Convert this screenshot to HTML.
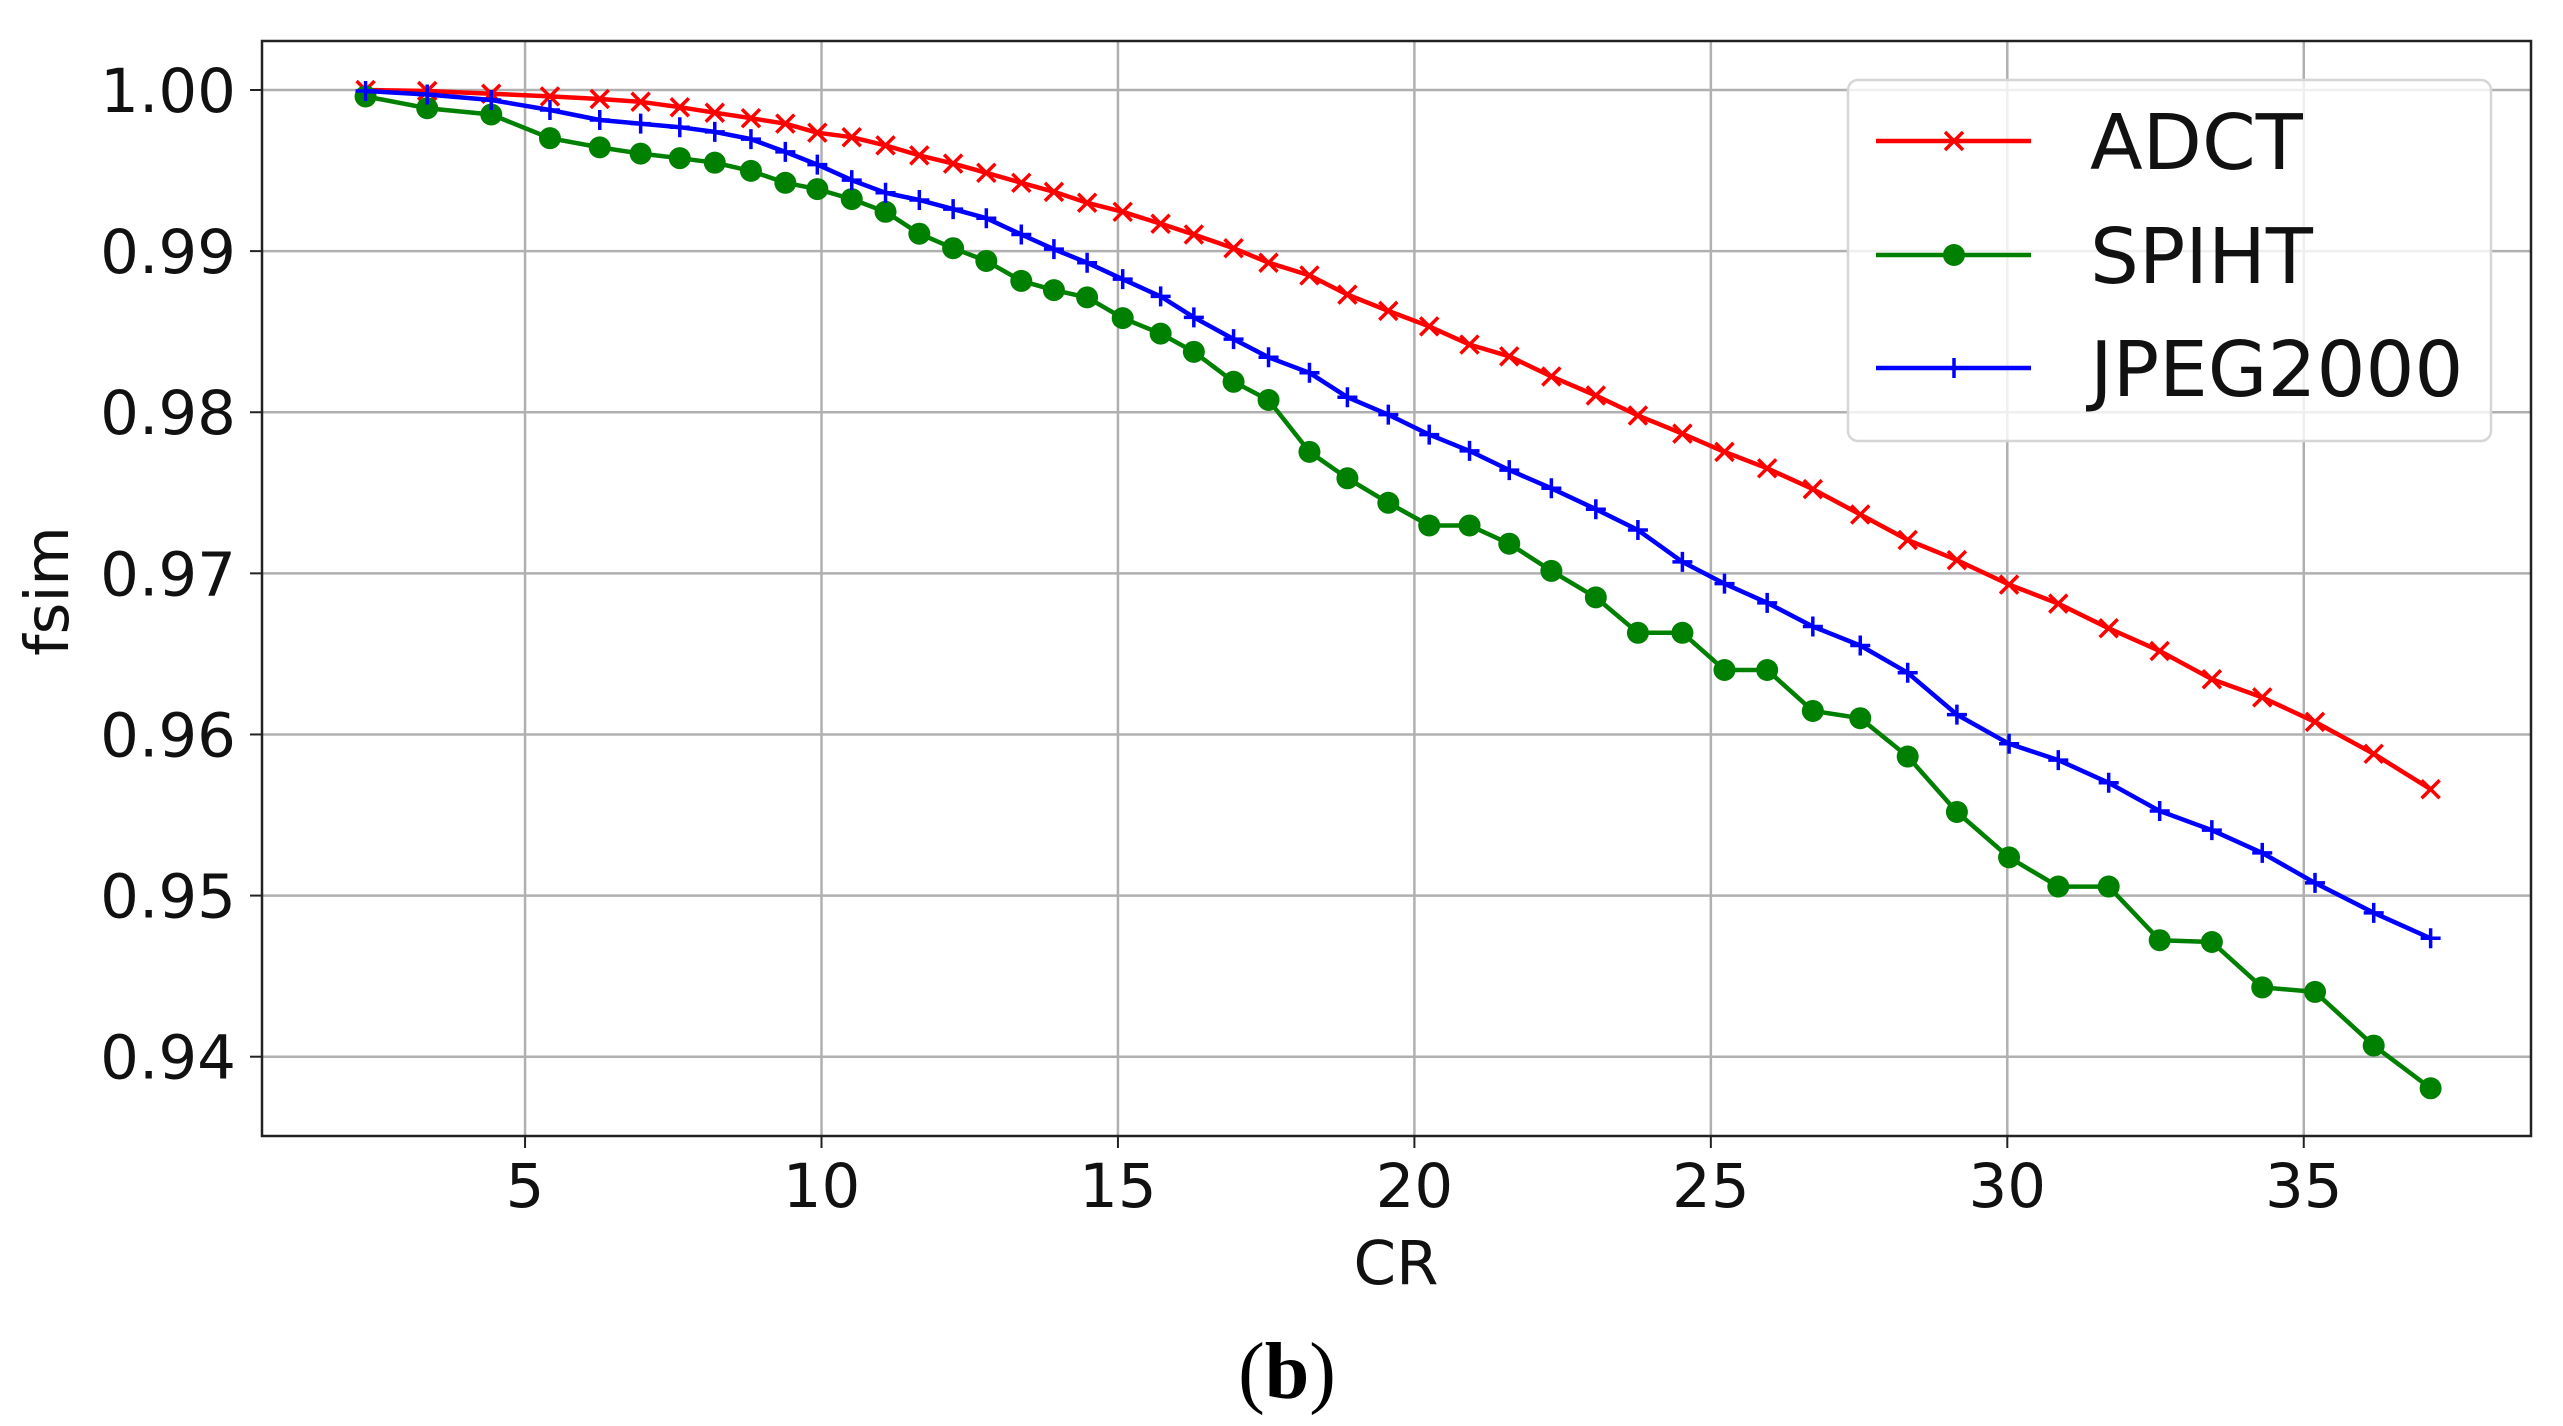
<!DOCTYPE html>
<html><head><meta charset="utf-8"><style>
html,body{margin:0;padding:0;background:#fff;}
svg{display:block;}
text{font-family:"DejaVu Sans","Liberation Sans",sans-serif;}
text.serif{font-family:"Liberation Serif","DejaVu Serif",serif;}
</style></head><body>
<svg id="chart" width="2563" height="1426" viewBox="0 0 2563 1426" xmlns="http://www.w3.org/2000/svg"></svg>
<script>
const crValues=[2.31,3.35,4.43,5.42,6.26,6.95,7.61,8.20,8.81,9.39,9.93,10.51,11.08,11.65,12.22,12.78,13.37,13.92,14.48,15.08,15.72,16.28,16.95,17.54,18.23,18.87,19.56,20.25,20.93,21.60,22.31,23.06,23.77,24.52,25.23,25.95,26.72,27.52,28.32,29.15,30.03,30.86,31.71,32.57,33.45,34.30,35.19,36.18,37.14];
const adctValues=[1.0000,0.99994,0.99977,0.99960,0.99944,0.99927,0.99893,0.99859,0.99825,0.99791,0.99735,0.99707,0.99656,0.99594,0.99543,0.99486,0.99424,0.99368,0.99300,0.99244,0.99170,0.99103,0.99018,0.98928,0.98849,0.98730,0.98629,0.98533,0.98420,0.98347,0.98222,0.98104,0.97980,0.97867,0.97754,0.97652,0.97523,0.97365,0.97207,0.97082,0.96930,0.96812,0.96659,0.96518,0.96343,0.96230,0.96078,0.95880,0.95660];
const spihtValues=[0.99960,0.99887,0.99848,0.99701,0.99644,0.99605,0.99577,0.99549,0.99498,0.99424,0.99385,0.99323,0.99244,0.99108,0.99018,0.98939,0.98815,0.98758,0.98713,0.98584,0.98488,0.98375,0.98189,0.98076,0.97754,0.97590,0.97438,0.97297,0.97297,0.97184,0.97015,0.96851,0.96631,0.96631,0.96400,0.96400,0.96146,0.96101,0.95863,0.95519,0.95237,0.95056,0.95056,0.94723,0.94712,0.94430,0.94402,0.94069,0.93804];
const jpegValues=[0.99994,0.99972,0.99938,0.99876,0.99814,0.99791,0.99769,0.99740,0.99695,0.99616,0.99537,0.99441,0.99362,0.99317,0.99261,0.99204,0.99103,0.99012,0.98928,0.98826,0.98719,0.98589,0.98454,0.98341,0.98245,0.98093,0.97985,0.97861,0.97760,0.97641,0.97528,0.97398,0.97269,0.97071,0.96936,0.96817,0.96670,0.96552,0.96383,0.96123,0.95942,0.95841,0.95700,0.95525,0.95406,0.95265,0.95079,0.94893,0.94735];
const xTicks=[5,10,15,20,25,30,35];
const yTicks=[1.00,0.99,0.98,0.97,0.96,0.95,0.94];
const yTickLabels=["1.00","0.99","0.98","0.97","0.96","0.95","0.94"];
const seriesNames=["ADCT","SPIHT","JPEG2000"];

const NS="http://www.w3.org/2000/svg";
const svg=document.getElementById('chart');
const AX={l:262,t:41,r:2531,b:1136};
function xs(v){return 228.6+(v)*59.29;}
function ys(v){return 90+(1-v)/0.06*(1056.7-90);}
function mk(tag,attrs,parent){const e=document.createElementNS(NS,tag);for(const k in attrs)e.setAttribute(k,attrs[k]);(parent||svg).appendChild(e);return e;}

const grid=mk('g',{});


xTicks.forEach(t=>{const l=mk('line',{x1:xs(t),x2:xs(t),y1:AX.t,y2:AX.b,stroke:'#b0b0b0','stroke-width':2.5},grid);

});
yTicks.forEach(t=>{const l=mk('line',{x1:AX.l,x2:AX.r,y1:ys(t),y2:ys(t),stroke:'#b0b0b0','stroke-width':2.5},grid);

});

xTicks.forEach(t=>{mk('line',{x1:xs(t),x2:xs(t),y1:AX.b,y2:AX.b+12,stroke:'#222','stroke-width':2});
const tx=mk('text',{x:xs(t),y:1207,'font-size':61,'text-anchor':'middle',fill:'#111'});tx.textContent=t;

});
yTicks.forEach((t,i)=>{mk('line',{x1:AX.l-12,x2:AX.l,y1:ys(t),y2:ys(t),stroke:'#222','stroke-width':2});
const tx=mk('text',{x:236,y:ys(t)+22,'font-size':61,'text-anchor':'end',fill:'#111'});tx.textContent=yTickLabels[i];

});

function drawSeries(vals,color,marker,name){
  const g=mk('g',{});
  
  
  const pts=vals.map((v,i)=>xs(crValues[i]).toFixed(1)+','+ys(v).toFixed(1)).join(' ');
  const pl=mk('polyline',{points:pts,fill:'none',stroke:color,'stroke-width':4.5,'stroke-linejoin':'round'},g);
  
  
  vals.forEach((v,i)=>{const m=drawMarker(xs(crValues[i]),ys(v),color,marker,g);
    
    });
}
function drawMarker(x,y,color,marker,g){
  if(marker==='o') return mk('circle',{cx:x,cy:y,r:11,fill:color},g);
  let d;
  if(marker==='x'){const s=9;d=`M${x-s},${y-s}L${x+s},${y+s}M${x-s},${y+s}L${x+s},${y-s}`;}
  else {const s=10;d=`M${x-s},${y}L${x+s},${y}M${x},${y-s}L${x},${y+s}`;}
  return mk('path',{d:d,stroke:color,'stroke-width':3.5,fill:'none'},g);
}
drawSeries(adctValues,'#ff0000','x','adct');
drawSeries(spihtValues,'#008000','o','spiht');
drawSeries(jpegValues,'#0000ff','+','jpeg2000');

const fr=mk('rect',{x:AX.l,y:AX.t,width:AX.r-AX.l,height:AX.b-AX.t,fill:'none',stroke:'#222','stroke-width':2.5});



const lg=mk('g',{});


mk('rect',{x:1848,y:80,width:643,height:361,rx:10,fill:'rgba(255,255,255,0.8)',stroke:'#d6d6d6','stroke-width':2.5},lg);
const colors=['#ff0000','#008000','#0000ff'],markers=['x','o','+'],rows=[141,255,368];
seriesNames.forEach((n,i)=>{
  const e=mk('g',{},lg);
  
  
  mk('line',{x1:1876,x2:2031,y1:rows[i],y2:rows[i],stroke:colors[i],'stroke-width':4.5},e);
  drawMarker(1954,rows[i],colors[i],markers[i],e);
  const t=mk('text',{x:2090,y:rows[i]+28,'font-size':77,fill:'#111'},e);t.textContent=n;
});

const xt=mk('text',{x:1396,y:1284,'font-size':61,'text-anchor':'middle',fill:'#111'});xt.textContent='CR';


const yt=mk('text',{x:0,y:0,'font-size':61,'text-anchor':'middle',fill:'#111',transform:'translate(68,591) rotate(-90)'});yt.textContent='fsim';


const cap=mk('text',{x:1287,y:1398,'font-size':80,'text-anchor':'middle',fill:'#000','class':'serif'});
cap.innerHTML='(<tspan font-weight="bold">b</tspan>)';


</script>
</body></html>
